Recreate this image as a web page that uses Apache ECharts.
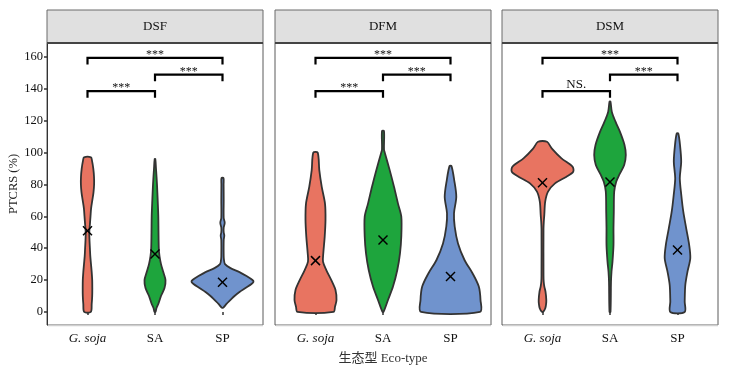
<!DOCTYPE html>
<html>
<head>
<meta charset="utf-8">
<script src="https://cdn.jsdelivr.net/npm/echarts@6/dist/echarts.min.js"></script>
<style>
  html, body { margin: 0; padding: 0; background: #fff; }
  #chart { width: 731px; height: 377px; }
</style>
</head>
<body>
<div id="chart"></div>
<script>
// facets and groups
var panels = ['DSF', 'DFM', 'DSM'];
var groups = ['G. soja', 'SA', 'SP'];
var yTicks = [0, 20, 40, 60, 80, 100, 120, 140, 160];
var groupColors = ['#e87461', '#1ea53d', '#7093cd'];

// violin outlines: [PTCRS value, density half-width]
var dsfSoja = [[0,3.3],[5,4.2],[10,4.7],[15,4.8],[20,4.7],[25,4.2],[30,3.5],[35,2.8],[40,2.4],[45,2.0],[50,1.8],[55,2.4],[60,3.0],[65,3.6],[70,4.8],[75,6.0],[80,6.6],[85,6.5],[90,5.8],[95,4.5],[97,3.5]];
var dsfSA = [[0,0.5],[2.5,1.5],[5,3.3],[10,6],[15,9.5],[20,10.5],[25,8.3],[30,6],[35,4.5],[40,3.8],[50,3.5],[60,3.3],[70,2.7],[80,2],[90,1],[96,0.3]];
var dsfSP = [[2.7,0.8],[5,4],[7.5,8],[10,12],[12.5,17],[15,23],[17.5,29],[19,31],[20,30],[22.5,24],[25,17],[27.5,8],[30,2.5],[32.5,1.5],[35,1.2],[45,1.2],[48,1.8],[50,1.2],[53,1.2],[56,2.2],[59,1.2],[70,1.2],[80,1.1],[84,1]];

var dfmSoja = [[0,18],[3.3,19.5],[7.5,21],[13.8,20],[20,15.8],[26.3,10.8],[31.6,7.5],[36.8,7.8],[47.3,9.2],[57.7,10],[68,9.5],[78.6,6.2],[89,3.8],[100,2.2]];
var dfmSA = [[0,0.5],[7.5,5],[15.9,10],[26.3,14.3],[36.8,17],[47.3,18.3],[59.8,18.3],[68,15],[78.6,11],[89,6.7],[99.5,2],[102,1],[113.5,1]];
var dfmSP = [[0,29.5],[7.5,30],[15.9,28.3],[24.3,22],[32.6,14],[43,7.5],[53.5,4.2],[61.9,3.5],[72.3,5.8],[82.8,3.7],[91.5,1]];

var dsmSoja = [[0.2,0.8],[2.3,2.8],[5,3.6],[7.5,3.8],[12.7,3],[16,1.8],[19,1.2],[23,1],[52,1],[56.6,1.3],[60.9,1.8],[69.2,2.7],[75.5,5.5],[80.7,12.5],[84.9,24],[88,30.7],[91.2,30],[96.4,19],[102.7,9.2],[106.8,4.5]];
var dsmSA = [[0,0.5],[19,1],[25.3,1.5],[31.6,2.5],[42,3.5],[52.5,3.5],[62.9,3.8],[75.5,4.2],[81.7,6.2],[86,9.2],[92.2,14.2],[98.5,15.8],[104.8,14.5],[113,10],[119.4,5.5],[125.7,1.8],[132,0.5]];
var dsmSP = [[0,7.2],[6.5,7.2],[16.9,7.8],[25.3,10],[33.7,12.8],[42,11.7],[52.5,8.7],[62.9,5.8],[73.4,3.8],[83.9,2.3],[94.3,3.7],[104.8,2.5],[112,0.8]];

// group means (the X marks)
var dsfMeans = [51, 36.4, 18.6];
var dfmMeans = [32.2, 45.2, 22.2];
var dsmMeans = [81.1, 81.5, 38.9];

// significance brackets
var bracketPairs = [[1, 3], [2, 3], [1, 2]];
var bracketHeights = [159.5, 149, 138.6];
var dsfSig = ['***', '***', '***'];
var dfmSig = ['***', '***', '***'];
var dsmSig = ['***', '***', 'NS.'];

var shapes = [[dsfSoja, dsfSA, dsfSP], [dfmSoja, dfmSA, dfmSP], [dsmSoja, dsmSA, dsmSP]];
var means = [dsfMeans, dfmMeans, dsmMeans];
var sigs = [dsfSig, dfmSig, dsmSig];

var serif = "'Liberation Serif', 'DejaVu Serif', serif";
var gridLeft = [47, 275, 502];
var gridTop = 43, gridW = 216, gridH = 282;
var densityScale = 1 / 67.5; // density units -> x axis units
var bracketDrop = 4.2;

var chart = echarts.init(document.getElementById('chart'));

var grids = [], xAxes = [], yAxes = [], series = [], graphics = [];

panels.forEach(function (panel, p) {
  grids.push({
    left: gridLeft[p], top: gridTop, width: gridW, height: gridH,
    show: true, borderColor: '#5a5a5a', borderWidth: 1, backgroundColor: '#fff'
  });

  xAxes.push({
    gridIndex: p, type: 'value', min: 0.4, max: 3.6,
    splitLine: { show: false },
    axisLine: { show: false },
    axisTick: { show: true, customValues: [1, 2, 3], length: 3, lineStyle: { color: '#333', width: 1.5 } },
    axisLabel: {
      customValues: [1, 2, 3], margin: 7,
      fontFamily: serif, fontSize: 13, color: '#111',
      formatter: function (v) {
        var name = groups[Math.round(v) - 1];
        return v === 1 ? '{it|' + name + '}' : name;
      },
      rich: { it: { fontStyle: 'italic', fontFamily: serif, fontSize: 13, color: '#111' } }
    },
    name: p === 1 ? '生态型 Eco-type' : '',
    nameLocation: 'middle', nameGap: 27,
    nameTextStyle: { fontFamily: "'Liberation Serif', 'Noto Sans CJK SC', serif", fontSize: 13, color: '#333' }
  });

  yAxes.push({
    gridIndex: p, type: 'value', min: -8.2, max: 168.8,
    splitLine: { show: false },
    axisLine: { show: p === 0, onZero: false, lineStyle: { color: '#333', width: 1 } },
    axisTick: { show: p === 0, customValues: yTicks, length: 3, lineStyle: { color: '#333', width: 1.5 } },
    axisLabel: { show: p === 0, customValues: yTicks, margin: 4, fontFamily: serif, fontSize: 12.5, color: '#111' },
    name: p === 0 ? 'PTCRS (%)' : '',
    nameLocation: 'middle', nameGap: 24,
    nameTextStyle: { fontFamily: serif, fontSize: 12.5, fontStyle: 'normal', color: '#222' }
  });

  // violins
  series.push({
    type: 'custom', xAxisIndex: p, yAxisIndex: p, clip: false,
    data: groups.map(function (g, i) { return [i + 1]; }),
    renderItem: function (params, api) {
      var i = params.dataIndex;
      var prof = shapes[p][i];
      var x = i + 1;
      var pts = [];
      prof.forEach(function (d) { pts.push(api.coord([x + d[1] * densityScale, d[0]])); });
      for (var k = prof.length - 1; k >= 0; k--) {
        pts.push(api.coord([x - prof[k][1] * densityScale, prof[k][0]]));
      }
      return {
        type: 'polygon',
        shape: { points: pts, smooth: 0.3 },
        style: { fill: groupColors[i], stroke: '#333', lineWidth: 1.8 }
      };
    },
    z: 2
  });

  // mean markers
  series.push({
    type: 'custom', xAxisIndex: p, yAxisIndex: p, clip: false,
    data: groups.map(function (g, i) { return [i + 1]; }),
    renderItem: function (params, api) {
      var i = params.dataIndex;
      var c = api.coord([i + 1, means[p][i]]);
      var r = 4.5;
      var st = { stroke: '#000', lineWidth: 1.5 };
      return {
        type: 'group',
        children: [
          { type: 'line', shape: { x1: c[0] - r, y1: c[1] - r, x2: c[0] + r, y2: c[1] + r }, style: st },
          { type: 'line', shape: { x1: c[0] - r, y1: c[1] + r, x2: c[0] + r, y2: c[1] - r }, style: st }
        ]
      };
    },
    z: 3
  });

  // brackets
  series.push({
    type: 'custom', xAxisIndex: p, yAxisIndex: p, clip: false,
    data: bracketPairs.map(function (b, i) { return [i]; }),
    renderItem: function (params, api) {
      var i = params.dataIndex;
      var a = bracketPairs[i][0], b = bracketPairs[i][1], h = bracketHeights[i];
      var p1 = api.coord([a, h - bracketDrop]);
      var p2 = api.coord([a, h]);
      var p3 = api.coord([b, h]);
      var p4 = api.coord([b, h - bracketDrop]);
      var lab = sigs[p][i];
      var isNS = lab === 'NS.';
      return {
        type: 'group',
        children: [
          { type: 'polyline', shape: { points: [p1, p2, p3, p4] }, style: { stroke: '#000', lineWidth: 2.2, fill: null } },
          {
            type: 'text',
            style: {
              text: lab, x: (p2[0] + p3[0]) / 2, y: p2[1] - (isNS ? 7 : 3),
              align: 'center', verticalAlign: 'middle',
              font: (isNS ? '13px ' : '12px ') + serif, fill: '#111'
            }
          }
        ]
      };
    },
    z: 4
  });

  // light bottom edge of the panel
  graphics.push({
    type: 'line', z: 100,
    shape: { x1: gridLeft[p] + 1, y1: gridTop + gridH + 0.5, x2: gridLeft[p] + gridW, y2: gridTop + gridH + 0.5 },
    style: { stroke: '#cfcfcf', lineWidth: 1.5 }
  });

  // facet strip
  graphics.push({
    type: 'rect', z: 100,
    shape: { x: gridLeft[p], y: 10, width: gridW, height: gridTop - 10 },
    style: { fill: '#e0e0e0', stroke: '#6a6a6a', lineWidth: 1 }
  });
  graphics.push({
    type: 'line', z: 101,
    shape: { x1: gridLeft[p], y1: gridTop, x2: gridLeft[p] + gridW, y2: gridTop },
    style: { stroke: '#444', lineWidth: 2 }
  });
  graphics.push({
    type: 'text', z: 102,
    style: {
      text: panel, x: gridLeft[p] + gridW / 2, y: 26.5,
      align: 'center', verticalAlign: 'middle',
      font: '13px ' + serif, fill: '#111'
    }
  });
});

chart.setOption({
  animation: false,
  grid: grids,
  xAxis: xAxes,
  yAxis: yAxes,
  series: series,
  graphic: graphics
});
</script>
</body>
</html>
